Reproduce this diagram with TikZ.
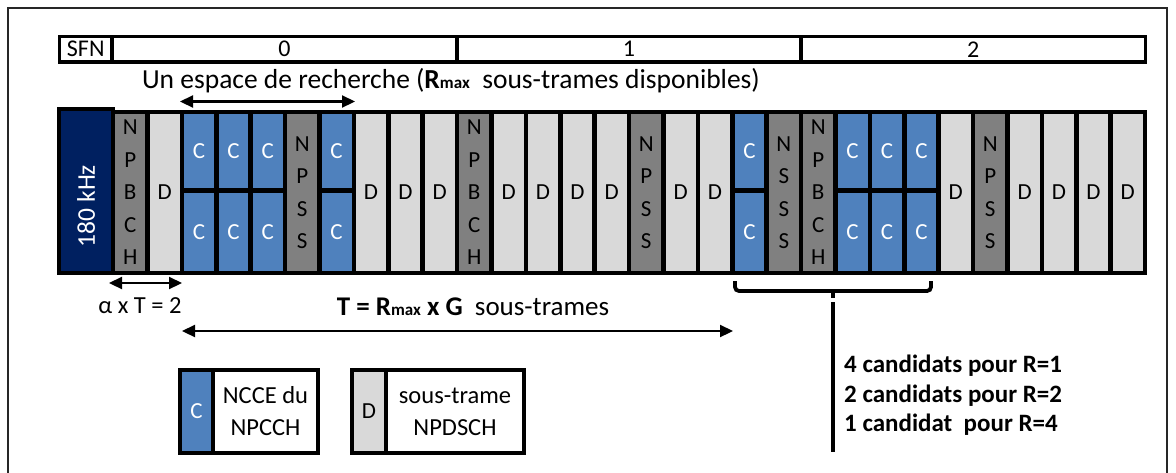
\documentclass[tikz,border=0pt]{standalone}
\usepackage{fontspec}
\setmainfont{Carlito}
\usetikzlibrary{arrows.meta}
\definecolor{cblue}{HTML}{4F81BD}
\definecolor{cgray}{HTML}{808080}
\definecolor{clight}{HTML}{D9D9D9}
\definecolor{cnavy}{HTML}{002060}
\newcommand\mkcolD[2]{\node[dcell] (k#1) at (#2,192.5) {D};}
\newcommand\mkcolC[2]{\node[ccell,minimum height=78.5pt] (k#1a) at (#2,151.25) {C};\node[ccell,minimum height=82.5pt] (k#1b) at (#2,231.75) {C};}
\newcommand\mkcolB[2]{\node[gcell] (k#1) at (#2,192.5) {N\\P\\B\\C\\H};}
\newcommand\mkcolP[2]{\node[gcell] (k#1) at (#2,192.5) {N\\P\\S\\S};}
\newcommand\mkcolS[2]{\node[gcell] (k#1) at (#2,192.5) {N\\S\\S\\S};}
\begin{document}
\begin{tikzpicture}[x=1pt,y=-1pt,
  cellbase/.style={draw=black,line width=4.6pt,inner sep=0pt,minimum width=34.4pt},
  dcell/.style={cellbase,fill=clight,minimum height=161pt,font=\fontsize{23}{27}\selectfont},
  gcell/.style={cellbase,fill=cgray,minimum height=161pt,align=center,font=\fontsize{23}{32.5}\selectfont},
  ccell/.style={cellbase,fill=cblue,text=white,font=\fontsize{23}{27}\selectfont},
  sfncell/.style={draw=black,line width=3.4pt,inner sep=0pt,minimum height=25.5pt,font=\fontsize{24}{28}\selectfont},
  legbox/.style={draw=black,line width=4.6pt,inner sep=0pt,minimum height=83pt,align=center,font=\fontsize{24.5}{32}\selectfont},
  dbl/.style={line width=2.2pt,{Triangle[length=13pt,width=12pt]}-{Triangle[length=13pt,width=12pt]}},
  brace/.style={line width=3.8pt,rounded corners=4pt},
  cand/.style={anchor=base west,font=\bfseries\fontsize{25}{30}\selectfont,inner sep=0pt}]
\useasboundingbox (0,0) rectangle (1176,472);
% outer frame
\draw[line width=1.3pt,draw=black!85] (8,480) -- (8,8) -- (1167,8) -- (1167,480);
% SFN bar
\node[sfncell,minimum width=52.5pt] (sfn) at (85.75,49.25) {SFN};
\node[sfncell,minimum width=345pt] (f0) at (284.5,49.25) {0};
\node[sfncell,minimum width=344pt] (f1) at (629,49.25) {1};
\node[sfncell,minimum width=344.5pt] (f2) at (973.25,49.25) {2};
% search space label
\node[anchor=base,inner sep=0pt,font=\fontsize{27.5}{30}\selectfont] (title) at (451,88)
  {Un espace de recherche (\textbf{R}{\fontsize{17}{17}\selectfont\textbf{max}}~~sous-trames disponibles)};
\coordinate (ssL) at (180,101.5);
\coordinate (ssR) at (355,101.5);
\draw[dbl] (ssL) -- (ssR);
% 180 kHz box
\node[draw=black,line width=4.6pt,fill=cnavy,inner sep=0pt,minimum width=54pt,minimum height=164pt] (khz) at (86,191) {};
\node[rotate=90,text=white,inner sep=0pt,font=\fontsize{25.5}{30}\selectfont] (khzlabel) at (86,206) {180 kHz};
% columns
\foreach \t [count=\i from 0] in {B,D,C,C,C,P,C,D,D,D,B,D,D,D,D,P,D,D,C,S,B,C,C,C,D,P,D,D,D,D}{
  \pgfmathsetmacro\xc{113+34.4*(\i+0.5)}
  \csname mkcol\t\endcsname{\i}{\xc}
}
% alpha arrow
\coordinate (aL) at (109,283);
\coordinate (aR) at (182,283);
\draw[dbl] (aL) -- (aR);
\node[anchor=base,inner sep=0pt,font=\fontsize{24.5}{28}\selectfont] (alpha) at (140,313) {α x T = 2};
% T arrow
\node[anchor=base,inner sep=0pt,font=\fontsize{27}{30}\selectfont] (tlabel) at (473,315)
  {\textbf{T = R}{\fontsize{17}{17}\selectfont\textbf{max}}\textbf{ x G}~~sous-trames};
\coordinate (tL) at (182,331);
\coordinate (tR) at (733,331);
\draw[dbl] (tL) -- (tR);
% brace
\coordinate (bL) at (735,281);
\coordinate (bR) at (931,281);
\coordinate (bM) at (833,291);
\coordinate (bT) at (833,298);
\coordinate (vT) at (833,302);
\coordinate (vB) at (833,452);
\draw[brace] (bL) -- (735,291) -- (931,291) -- (bR);
\draw[line width=3.8pt] (bM) -- (bT);
\draw[line width=3.8pt] (vT) -- (vB);
\node[cand] (cand1) at (844,372) {4 candidats pour R=1};
\node[cand] (cand2) at (844,402) {2 candidats pour R=2};
\node[cand] (cand3) at (844,431) {1 candidat~~pour R=4};
% legend
\node[cellbase,fill=cblue,text=white,minimum width=33pt,minimum height=83pt,font=\fontsize{23}{27}\selectfont] (legc) at (196.5,411.5) {C};
\node[legbox,minimum width=105pt] (legctext) at (265.5,411.5) {NCCE du\\NPCCH};
\node[cellbase,fill=clight,minimum width=34pt,minimum height=83pt,font=\fontsize{23}{27}\selectfont] (legd) at (369,411.5) {D};
\node[legbox,minimum width=138pt] (legdtext) at (455,411.5) {sous-trame\\NPDSCH};
\end{tikzpicture}
\end{document}
